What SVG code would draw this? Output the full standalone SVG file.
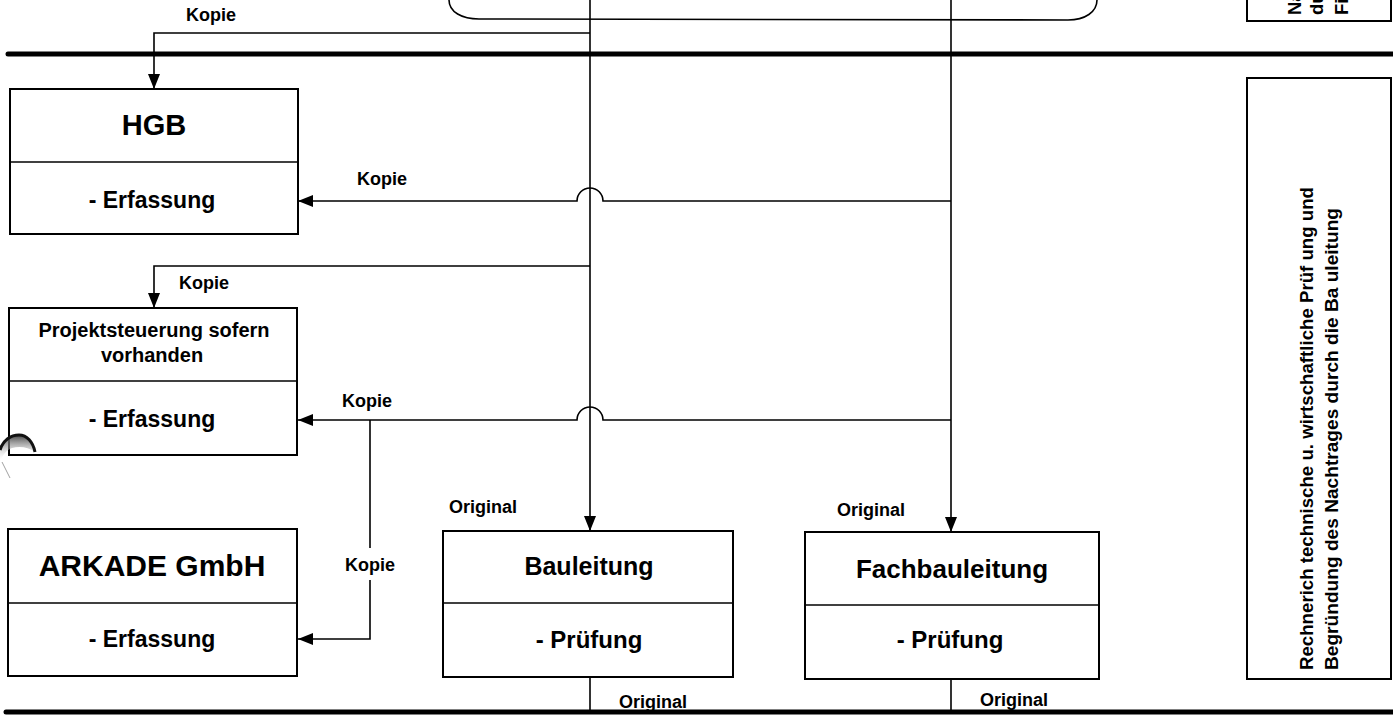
<svg xmlns="http://www.w3.org/2000/svg" width="1393" height="715" viewBox="0 0 1393 715">
<style>
.box{fill:#fff;stroke:#000;stroke-width:2}
.div{stroke:#000;stroke-width:1.6}
.ln{fill:none;stroke:#000;stroke-width:1.6}
.thick{stroke:#000;stroke-width:5;stroke-linecap:round}
.t{font-family:"Liberation Sans",Arial,sans-serif;font-weight:bold;fill:#000;text-anchor:middle}
.lbl{font-family:"Liberation Sans",Arial,sans-serif;font-weight:bold;fill:#000;font-size:18px;text-anchor:middle}
.rot{font-family:"Liberation Sans",Arial,sans-serif;font-weight:bold;fill:#000;font-size:18.5px}
</style>
<defs>
<marker id="arr" viewBox="0 0 15 12" refX="15" refY="6" markerWidth="15" markerHeight="12" markerUnits="userSpaceOnUse" orient="auto">
<path d="M0,0 L15,6 L0,12 Z" fill="#000"/>
</marker>
<linearGradient id="shade" x1="0" y1="0" x2="0" y2="1">
<stop offset="0" stop-color="#444"/>
<stop offset="1" stop-color="#fff" stop-opacity="0"/>
</linearGradient>
</defs>
<rect width="1393" height="715" fill="#fff"/>

<g id="top-shape">
<path class="ln" d="M449,0 C449,12 462,19 479,19 L1068,20 C1085,20 1097,12 1097,0" stroke-width="1.8"/>
</g>

<g id="top-right-box">
<rect class="box" x="1247" y="-5" width="144" height="26"/>
<text class="rot" font-size="15" transform="translate(1301,15) rotate(-90)">Na</text>
<text class="rot" font-size="15" transform="translate(1323,15) rotate(-90)">du</text>
<text class="rot" font-size="15" transform="translate(1348,15) rotate(-90)">Fi</text>
</g>

<g id="swimlane-lines">
<line class="thick" x1="8" y1="54" x2="1400" y2="54"/>
<line class="thick" x1="6" y1="712" x2="1400" y2="712"/>
</g>

<g id="connectors">
<path class="ln" d="M590,33 L154,33 L154,89" marker-end="url(#arr)"/>
<path class="ln" d="M951,201 L603,201 A13,13 0 0 0 577,201 L298,201" marker-end="url(#arr)"/>
<path class="ln" d="M590,266 L154,266 L154,308" marker-end="url(#arr)"/>
<path class="ln" d="M951,420 L603,420 A13,13 0 0 0 577,420 L298,420" marker-end="url(#arr)"/>
<path class="ln" d="M370,420 L370,548"/>
<path class="ln" d="M370,580 L370,639 L298,639" marker-end="url(#arr)"/>
<path class="ln" d="M590,0 L590,531" marker-end="url(#arr)"/>
<path class="ln" d="M951,0 L951,532" marker-end="url(#arr)"/>
<path class="ln" d="M590,677 L590,712"/>
<path class="ln" d="M951,679 L951,712"/>

<text class="lbl" x="211" y="21">Kopie</text>
<text class="lbl" x="382" y="185">Kopie</text>
<text class="lbl" x="204" y="289">Kopie</text>
<text class="lbl" x="367" y="407">Kopie</text>
<text class="lbl" x="370" y="571">Kopie</text>
<text class="lbl" x="483" y="513">Original</text>
<text class="lbl" x="871" y="516">Original</text>
<text class="lbl" x="653" y="708">Original</text>
<text class="lbl" x="1014" y="706">Original</text>
</g>

<g id="hgb">
<rect class="box" x="10" y="89" width="288" height="145"/>
<line class="div" x1="10" y1="162" x2="298" y2="162"/>
<text class="t" x="154" y="135" font-size="29">HGB</text>
<text class="t" x="152" y="208" font-size="23">- Erfassung</text>
</g>

<g id="projektsteuerung">
<rect class="box" x="9" y="308" width="288" height="147"/>
<line class="div" x1="9" y1="381" x2="297" y2="381"/>
<text class="t" x="154" y="337" font-size="20">Projektsteuerung sofern</text>
<text class="t" x="152" y="362" font-size="20">vorhanden</text>
<text class="t" x="152" y="427" font-size="23">- Erfassung</text>
</g>

<g id="arkade">
<rect class="box" x="8" y="529" width="289" height="147"/>
<line class="div" x1="8" y1="603" x2="297" y2="603"/>
<text class="t" x="152" y="576" font-size="30">ARKADE GmbH</text>
<text class="t" x="152" y="647" font-size="23">- Erfassung</text>
</g>

<g id="bauleitung">
<rect class="box" x="443" y="531" width="290" height="146"/>
<line class="div" x1="443" y1="603" x2="733" y2="603"/>
<text class="t" x="589" y="575" font-size="25">Bauleitung</text>
<text class="t" x="589" y="648" font-size="24">- Prüfung</text>
</g>

<g id="fachbauleitung">
<rect class="box" x="805" y="532" width="294" height="147"/>
<line class="div" x1="805" y1="605" x2="1099" y2="605"/>
<text class="t" x="952" y="578" font-size="26">Fachbauleitung</text>
<text class="t" x="950" y="648" font-size="24">- Prüfung</text>
</g>

<g id="pruefung-note">
<rect class="box" x="1247" y="78" width="144" height="601"/>
<text class="rot" transform="translate(1313,670) rotate(-90)" textLength="483" lengthAdjust="spacingAndGlyphs">Rechnerich technische u. wirtschaftliche Prüf ung und</text>
<text class="rot" transform="translate(1338,670) rotate(-90)" textLength="462" lengthAdjust="spacingAndGlyphs">Begründung des Nachtrages durch die Ba uleitung</text>
</g>

<g id="artifact">
<path d="M0,452 C3,441 11,435 19,435 C27,435 33,442 35,452 C28,447 20,446 12,448 C6,450 2,456 0,462 Z" fill="url(#shade)"/>
<path d="M0,450 C3,440 11,435 19,435 C27,435 33,442 35,452" fill="none" stroke="#111" stroke-width="3"/>
<path d="M2,462 L10,478" fill="none" stroke="#888" stroke-width="0.8"/>
</g>
</svg>
